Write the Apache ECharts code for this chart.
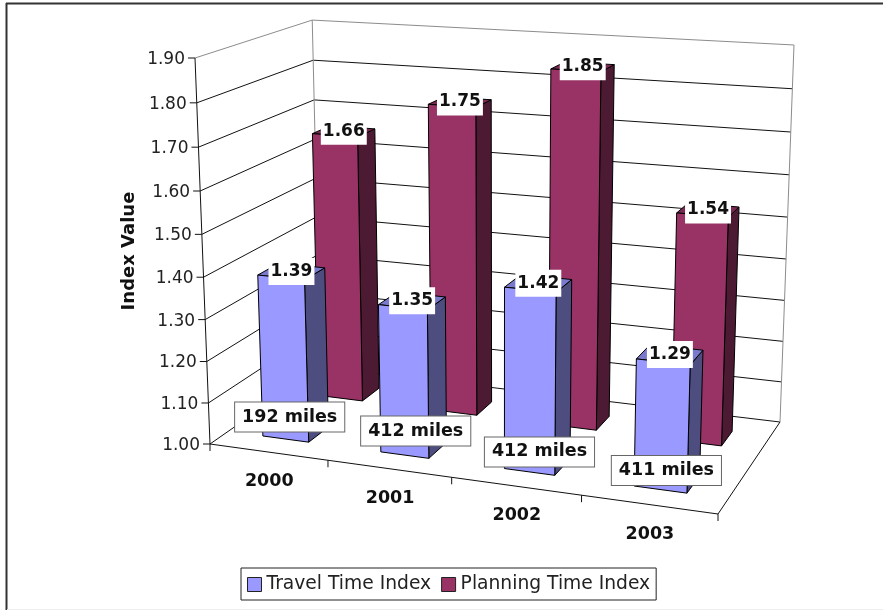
<!DOCTYPE html>
<html>
<head>
<meta charset="utf-8">
<style>html,body{margin:0;padding:0;background:#fff}#chart{width:883px;height:610px}</style>
<script src="https://cdn.jsdelivr.net/npm/echarts@6/dist/echarts.min.js"></script>
</head>
<body>
<div id="chart"></div>
<script>
const categories = ['2000', '2001', '2002', '2003'];
const travelTimeIndex = [1.39, 1.35, 1.42, 1.29];
const planningTimeIndex = [1.66, 1.75, 1.85, 1.54];
const milesCovered = [192, 412, 412, 411];
const yTicks = [1.0, 1.1, 1.2, 1.3, 1.4, 1.5, 1.6, 1.7, 1.8, 1.9];

// Perspective box: the four floor corners and the top of the front-left edge.
const O = [210, 444], U = [718, 514], V = [320.5, 367], R = [780, 422], W = [195, 58];
const depthW = -0.049;
const LABEL_FONT = '"DejaVu Sans", sans-serif';

// Solve the floor's projective weights from its four corners.
const a1 = U[0] - R[0], b1 = V[0] - R[0], c1 = O[0] + R[0] - U[0] - V[0];
const a2 = U[1] - R[1], b2 = V[1] - R[1], c2 = O[1] + R[1] - U[1] - V[1];
const det = a1 * b2 - a2 * b1;
const depthU = (c1 * b2 - c2 * b1) / det;
const depthV = (a1 * c2 - a2 * c1) / det;

// Maps box coordinates (u along categories, v into depth, w up the value axis) to pixels.
function project(u, v, w) {
  const d = 1 + depthU * u + depthV * v + depthW * w;
  const h = (i) => O[i] + u * ((1 + depthU) * U[i] - O[i]) + v * ((1 + depthV) * V[i] - O[i]) + w * ((1 + depthW) * W[i] - O[i]);
  return [h(0) / d, h(1) / d];
}

// Reads a data pair through the cartesian axes as box coordinates.
function boxCoords(api, params, catIndex, value) {
  const g = params.coordSys;
  const p = api.coord([catIndex, value]);
  return {
    u: (p[0] - g.x) / g.width,
    w: 1 - (p[1] - g.y) / g.height,
    band: api.size([1, 0])[0] / g.width
  };
}

function line(a, b, stroke, width) {
  return {
    type: 'line',
    shape: { x1: a[0], y1: a[1], x2: b[0], y2: b[1] },
    style: { stroke: stroke, lineWidth: width || 1, fill: null }
  };
}

function text(str, x, y, font, align, extra) {
  return {
    type: 'text',
    style: Object.assign({
      text: str, x: x, y: y, font: font, fill: '#111',
      textAlign: align || 'center', textVerticalAlign: 'middle'
    }, extra || {})
  };
}

// Gridlines, ticks and tick labels on the left and back walls.
function renderWallLevel(params, api) {
  const tick = api.value(1);
  const c = boxCoords(api, params, 0, tick);
  const top = tick === yTicks[yTicks.length - 1];
  const color = top ? '#8c8c8c' : '#111';
  const f = project(0, 0, c.w), b = project(0, 1, c.w), r = project(1, 1, c.w);
  return {
    type: 'group',
    children: [
      line(f, b, color), line(b, r, color),
      line([f[0] - 7, f[1]], f, '#111'),
      text(tick.toFixed(2), f[0] - 10, f[1] + 1.5, '17px ' + LABEL_FONT, 'right', { fill: '#222' })
    ]
  };
}

// Box edges that run along the value axis, plus the front and right floor edges.
function renderWallEdges(params, api) {
  return {
    type: 'group',
    children: [
      line(project(0, 1, 0), project(0, 1, 1), '#8c8c8c'),
      line(project(1, 1, 0), project(1, 1, 1), '#8c8c8c'),
      line(project(0, 0, 0), project(0, 0, 1), '#111'),
      line(project(0, 0, 0), project(1, 0, 0), '#111'),
      line(project(1, 0, 0), project(1, 1, 0), '#111'),
      line(project(0, 0, 0), [O[0], O[1] + 7], '#111')
    ]
  };
}

// Category tick marks and labels along the front floor edge.
function renderCategory(params, api) {
  const i = api.value(0);
  const c = boxCoords(api, params, i, yTicks[0]);
  const base = project(c.u, 0, 0);
  const edge = project(c.u + c.band / 2, 0, 0);
  return {
    type: 'group',
    children: [
      line(edge, [edge[0], edge[1] + 7], '#111'),
      text(categories[i], base[0] + 1, base[1] + 29.5, 'bold 17.5px ' + LABEL_FONT)
    ]
  };
}

function poly(points, fill) {
  return {
    type: 'polygon',
    shape: { points: points },
    style: { fill: fill, stroke: '#000', lineWidth: 1 }
  };
}

// One column drawn as front, side and top faces.
function columnRenderer(depth, colors) {
  return function (params, api) {
    const vNear = depth[0], vFar = depth[1];
    const c = boxCoords(api, params, api.value(0), api.value(1));
    const half = c.band * 0.197;
    const l = c.u - half, r = c.u + half, w = c.w;
    return {
      type: 'group',
      children: [
        poly([project(r, vNear, 0), project(r, vFar, 0), project(r, vFar, w), project(r, vNear, w)], colors.side),
        poly([project(l, vNear, w), project(r, vNear, w), project(r, vFar, w), project(l, vFar, w)], colors.top),
        poly([project(l, vNear, 0), project(r, vNear, 0), project(r, vNear, w), project(l, vNear, w)], colors.front)
      ]
    };
  };
}

const TRAVEL_DEPTH = [0.15, 0.33], PLANNING_DEPTH = [0.66, 0.83];

// White value tag centred on a column's top face.
function valueLabelRenderer(depth) {
  return function (params, api) {
    const c = boxCoords(api, params, api.value(0), api.value(1));
    const p = project(c.u, (depth[0] + depth[1]) / 2, c.w);
    return text(api.value(1).toFixed(2), p[0], p[1], 'bold 17px ' + LABEL_FONT, 'center', {
      backgroundColor: '#fff', padding: [5, 2, 5, 2]
    });
  };
}

// Hand-placed offsets of the mileage tags from the foot of each travel-time column.
const MILES_TAG_SHIFT = [[4, -22], [11, -24], [10, -20], [6, -19]];

// Boxed mileage tag in front of each travel-time column.
function renderMiles(params, api) {
  const i = api.value(0);
  const c = boxCoords(api, params, i, yTicks[0]);
  const p = project(c.u, TRAVEL_DEPTH[0], 0);
  return text(milesCovered[i] + ' miles', p[0] + MILES_TAG_SHIFT[i][0], p[1] + MILES_TAG_SHIFT[i][1], 'bold 17.5px ' + LABEL_FONT, 'center', {
    backgroundColor: '#fff', borderColor: '#666', borderWidth: 1, padding: [6, 7, 5, 7]
  });
}

const pairs = (values) => values.map((v, i) => [i, v]);
const custom = (extra) => Object.assign({ type: 'custom', clip: false, silent: true, animation: false }, extra);

const option = {
  animation: false,
  backgroundColor: '#fff',
  grid: { left: 200, top: 60, width: 520, height: 380 },
  xAxis: { type: 'category', data: categories, show: false },
  yAxis: { type: 'value', min: 1, max: 1.9, interval: 0.1, show: false },
  legend: {
    data: ['Travel Time Index', 'Planning Time Index'],
    left: 241, top: 568,
    itemWidth: 14, itemHeight: 14, itemGap: 10,
    icon: 'rect',
    padding: [7, 6, 6, 6],
    backgroundColor: '#fff', borderColor: '#222', borderWidth: 1,
    itemStyle: { borderColor: '#222', borderWidth: 1 },
    textStyle: { fontFamily: 'DejaVu Sans', fontSize: 18.7, color: '#222' },
    selectedMode: false
  },
  graphic: [
    { type: 'line', shape: { x1: 6, y1: 3.5, x2: 883, y2: 3.5 }, style: { stroke: '#333', lineWidth: 2 } },
    { type: 'line', shape: { x1: 6.5, y1: 3, x2: 6.5, y2: 610 }, style: { stroke: '#333', lineWidth: 2 } },
    { type: 'line', shape: { x1: 7, y1: 609.5, x2: 883, y2: 609.5 }, style: { stroke: '#eeeeee', lineWidth: 1 } },
    {
      type: 'text', x: 129, y: 251, rotation: Math.PI / 2,
      style: { text: 'Index Value', font: 'bold 18px ' + LABEL_FONT, fill: '#111', textAlign: 'center', textVerticalAlign: 'middle' }
    }
  ],
  series: [
    custom({ name: 'walls', data: pairs(yTicks).map((d) => [0, d[1]]), renderItem: renderWallLevel, z: 1 }),
    custom({ name: 'edges', data: [[0, 1]], renderItem: renderWallEdges, z: 2 }),
    custom({ name: 'categories', data: categories.map((c, i) => [i, 1]), renderItem: renderCategory, z: 2 }),
    custom({
      name: 'Planning Time Index', data: pairs(planningTimeIndex), z: 3,
      itemStyle: { color: '#993366' },
      renderItem: columnRenderer(PLANNING_DEPTH, { front: '#993366', side: '#4d1a33', top: '#7a2952' })
    }),
    custom({
      name: 'Travel Time Index', data: pairs(travelTimeIndex), z: 4,
      itemStyle: { color: '#9999ff' },
      renderItem: columnRenderer(TRAVEL_DEPTH, { front: '#9999ff', side: '#4d4d80', top: '#7a7acc' })
    }),
    custom({ name: 'planning values', data: pairs(planningTimeIndex), renderItem: valueLabelRenderer(PLANNING_DEPTH), z: 5 }),
    custom({ name: 'travel values', data: pairs(travelTimeIndex), renderItem: valueLabelRenderer(TRAVEL_DEPTH), z: 6 }),
    custom({ name: 'miles', data: pairs(milesCovered), renderItem: renderMiles, z: 7 })
  ]
};

echarts.init(document.getElementById('chart')).setOption(option);
</script>
</body>
</html>
